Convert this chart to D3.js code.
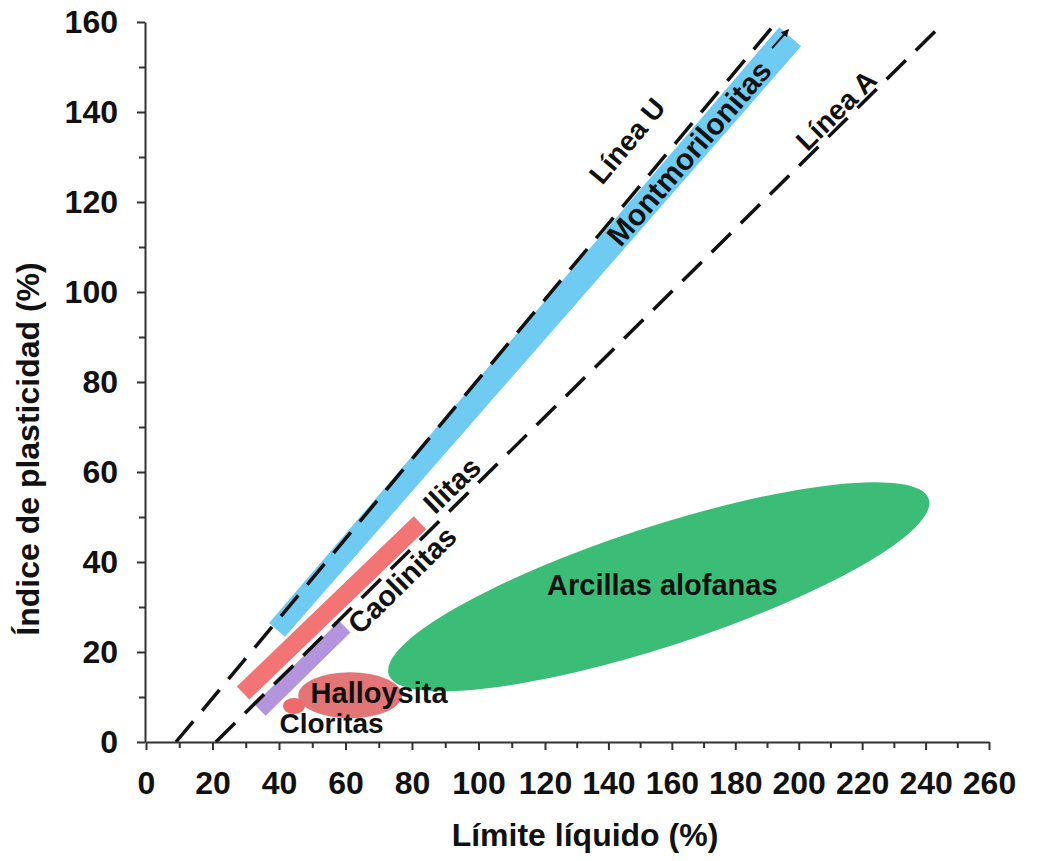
<!DOCTYPE html>
<html>
<head>
<meta charset="utf-8">
<script src="https://cdn.jsdelivr.net/npm/d3@7"></script>
<style>
  body { margin: 0; background: #fff; }
  svg { display: block; font-family: "Liberation Sans", Arial, sans-serif; font-weight: bold; }
</style>
</head>
<body>
<svg id="chart" width="1051" height="861"></svg>
<script>
// Axis ticks (liquid limit on x, plasticity index on y)
const xTicks = [0, 20, 40, 60, 80, 100, 120, 140, 160, 180, 200, 220, 240, 260];
const xMinorTicks = [10, 30, 50, 70, 90, 110, 130, 150, 170, 190, 210, 230, 250];
const yTicks = [0, 20, 40, 60, 80, 100, 120, 140, 160];
const yMinorTicks = [10, 30, 50, 70, 90, 110, 130, 150];

// Reference lines: [LL, PI] end points
const lineU = [[9, 0], [193, 160]];
const lineA = [[21, 0], [246, 160]];
const lineUArrow = [[191.6, 154.2], [196.6, 158.2]];

// Mineral bands: [LL, PI] at each end
const montmorilonitas = [[39.4, 24.9], [197.3, 156.7]];
const ilitas = [[29.2, 10.9], [82.4, 48.7]];
const caolinitas = [[34.3, 7.1], [59.8, 25.6]];

// Allophane clays: tips of the long axis and half thickness (PI)
const alofanasTips = [[73, 15], [241, 54]];
const alofanasHalfPI = 13.3;

// Halloysite and chlorite patches: centre [LL, PI] and radii [LL, PI]
const halloysitaCenter = [61.4, 10.4];
const halloysitaRadii = [15.6, 5.1];
const cloritasCenter = [44.5, 8.0];
const cloritasRadii = [3.3, 1.8];

// Text annotations anchored at [LL, PI]
const labelNames = ["Montmorilonitas", "Línea U", "Línea A", "Ilitas", "Caolinitas",
                    "Halloysita", "Cloritas", "Arcillas alofanas"];
const labelAt = [[165.4, 130.9], [145.9, 133.6], [211.8, 140.4], [92, 57.1], [77, 36],
                 [70.1, 8.7], [55.8, 2.0], [157, 32.7]];

const svg = d3.select("#chart");

const x = d3.scaleLinear().domain([0, 120, 260]).range([146, 545, 989]);
const y = d3.scaleLinear().domain([0, 160]).range([742, 22]);

const P = d => [x(d[0]), y(d[1])];
const angleOf = seg => {
  const a = P(seg[0]), b = P(seg[1]);
  return Math.atan2(b[1] - a[1], b[0] - a[0]) * 180 / Math.PI;
};

// ---- filled regions ----
const plot = svg.append("g");

// allophane ellipse
{
  const a = P(alofanasTips[0]), b = P(alofanasTips[1]);
  const cx = (a[0] + b[0]) / 2, cy = (a[1] + b[1]) / 2;
  const rx = Math.hypot(b[0] - a[0], b[1] - a[1]) / 2;
  const ry = y(0) - y(alofanasHalfPI);
  plot.append("ellipse")
    .attr("cx", cx).attr("cy", cy).attr("rx", rx).attr("ry", ry)
    .attr("transform", `rotate(${angleOf(alofanasTips)},${cx},${cy})`)
    .attr("fill", "#3bbd77");
}

// tapered band polygon
function band(seg, w1, w2, color) {
  const a = P(seg[0]), b = P(seg[1]);
  const L = Math.hypot(b[0] - a[0], b[1] - a[1]);
  const nx = -(b[1] - a[1]) / L, ny = (b[0] - a[0]) / L;
  const pts = [
    [a[0] + nx * w1 / 2, a[1] + ny * w1 / 2],
    [b[0] + nx * w2 / 2, b[1] + ny * w2 / 2],
    [b[0] - nx * w2 / 2, b[1] - ny * w2 / 2],
    [a[0] - nx * w1 / 2, a[1] - ny * w1 / 2]
  ];
  plot.append("path").attr("d", d3.line()(pts) + "Z").attr("fill", color);
}
band(montmorilonitas, 21, 29, "#6fcbf1");
band(ilitas, 18, 18, "#f27474");
band(caolinitas, 16, 16, "#b394dd");

function patch(c, r, color) {
  plot.append("ellipse")
    .attr("cx", x(c[0])).attr("cy", y(c[1]))
    .attr("rx", x(c[0] + r[0]) - x(c[0]))
    .attr("ry", y(c[1]) - y(c[1] + r[1]))
    .attr("fill", color);
}
patch(halloysitaCenter, halloysitaRadii, "#e27575");
patch(cloritasCenter, cloritasRadii, "#ef6a6a");

// ---- dashed reference lines ----
const lineGen = d3.line().x(d => x(d[0])).y(d => y(d[1]));
[lineU, lineA].forEach(l => {
  svg.append("path").attr("d", lineGen(l))
    .attr("fill", "none").attr("stroke", "#111")
    .attr("stroke-width", 3.5).attr("stroke-dasharray", "27,14");
});

svg.append("defs").append("marker")
  .attr("id", "head").attr("viewBox", "0 0 10 10")
  .attr("refX", 8).attr("refY", 5)
  .attr("markerWidth", 4).attr("markerHeight", 4)
  .attr("orient", "auto")
  .append("path").attr("d", "M0,0L10,5L0,10Z").attr("fill", "#111");
svg.append("path").attr("d", lineGen(lineUArrow))
  .attr("stroke", "#111").attr("stroke-width", 2).attr("marker-end", "url(#head)");

// ---- axes ----
function styleAxis(g) {
  g.selectAll("path.domain").attr("stroke", "#333").attr("stroke-width", 2);
  g.selectAll(".tick line").attr("stroke", "#333").attr("stroke-width", 2);
  g.selectAll(".tick text").attr("fill", "#111")
    .style("font-size", "32px").style("font-weight", "bold")
    .style("font-family", "'Liberation Sans', Arial, sans-serif");
}

const gx = svg.append("g").attr("transform", `translate(0,${y(0)})`)
  .call(d3.axisBottom(x).tickValues(xTicks).tickSize(8).tickSizeOuter(0).tickPadding(21));
styleAxis(gx);
const gxm = svg.append("g").attr("transform", `translate(0,${y(0)})`)
  .call(d3.axisBottom(x).tickValues(xMinorTicks).tickSize(6).tickFormat(""));
gxm.select("path.domain").remove();
styleAxis(gxm);

const gy = svg.append("g").attr("transform", `translate(${x(0) - 1},0)`)
  .call(d3.axisLeft(y).tickValues(yTicks).tickSize(8).tickSizeOuter(0).tickPadding(19));
styleAxis(gy);
const gym = svg.append("g").attr("transform", `translate(${x(0) - 1},0)`)
  .call(d3.axisLeft(y).tickValues(yMinorTicks).tickSize(6).tickFormat(""));
gym.select("path.domain").remove();
styleAxis(gym);

// axis titles
svg.append("text").attr("x", 585).attr("y", 846)
  .attr("text-anchor", "middle").style("font-size", "32px").attr("fill", "#111")
  .text("Límite líquido (%)");
svg.append("text").attr("transform", "translate(39,449) rotate(-90)")
  .attr("text-anchor", "middle").style("font-size", "32px").attr("fill", "#111")
  .text("Índice de plasticidad (%)");

// ---- annotations ----
const labelRot = [angleOf(montmorilonitas), angleOf(lineU), angleOf(lineA),
                  angleOf(ilitas), angleOf(caolinitas), 0, 0, 0];
const labelSize = [30, 28, 28, 29, 29, 29, 28, 29];
labelNames.forEach((t, i) => {
  const [px, py] = P(labelAt[i]);
  const rotated = labelRot[i] !== 0;
  svg.append("text")
    .attr("transform", `translate(${px},${py}) rotate(${labelRot[i]})`)
    .attr("text-anchor", "middle")
    .attr("dy", rotated ? "0.35em" : 0)
    .style("font-size", labelSize[i] + "px")
    .attr("fill", "#111")
    .text(t);
});
</script>
</body>
</html>
